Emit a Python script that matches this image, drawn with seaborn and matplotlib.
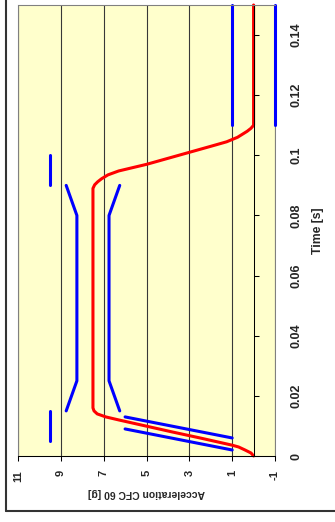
import matplotlib
matplotlib.use('Agg')
import matplotlib.pyplot as plt
from matplotlib.lines import Line2D
import seaborn as sns
import pandas as pd

# --- Data (time in s, acceleration in g) ---
red_t = [0, 0.001, 0.002, 0.003, 0.0036, 0.006, 0.008, 0.010, 0.012, 0.013,
         0.014, 0.015, 0.016, 0.089, 0.0902, 0.0912, 0.0922, 0.0935, 0.0948,
         0.097, 0.099, 0.101, 0.103, 0.1045, 0.106, 0.108, 0.109, 0.110, 0.15]
red_acc = [0, 0.12, 0.4, 0.7, 1.0, 2.5, 3.8, 5.05, 6.3, 6.9,
           7.3, 7.45, 7.5, 7.5, 7.42, 7.28, 7.1, 6.8, 6.3,
           5.0, 4.0, 3.0, 2.0, 1.26, 0.75, 0.3, 0.12, 0.0, 0.0]

upper_corr_t = [0.015, 0.025, 0.08, 0.09]
upper_corr_acc = [8.75, 8.25, 8.25, 8.75]
lower_corr_t = [0.015, 0.025, 0.08, 0.09]
lower_corr_acc = [6.25, 6.75, 6.75, 6.25]
ramp_upper_t = [0.006, 0.013]
ramp_upper_acc = [1, 6]
ramp_lower_t = [0.002, 0.009]
ramp_lower_acc = [1, 6]
mark_early_t = [0.005, 0.015]
mark_early_acc = [9.5, 9.5]
mark_late_t = [0.09, 0.10]
mark_late_acc = [9.5, 9.5]
tail_upper_t = [0.11, 0.15]
tail_upper_acc = [1, 1]
tail_lower_t = [0.11, 0.15]
tail_lower_acc = [-1, -1]

acc_ticks = [11, 9, 7, 5, 3, 1, -1]
acc_tick_labels = ['11', '9', '7', '5', '3', '1', '-1']
time_ticks = [0, 0.02, 0.04, 0.06, 0.08, 0.10, 0.12, 0.14]
time_tick_labels = ['0', '0.02', '0.04', '0.06', '0.08', '0.1', '0.12', '0.14']

# blue corridor segments in one long table
segments = [
    ('upper', upper_corr_t, upper_corr_acc),
    ('lower', lower_corr_t, lower_corr_acc),
    ('ramp_up', ramp_upper_t, ramp_upper_acc),
    ('ramp_lo', ramp_lower_t, ramp_lower_acc),
    ('early', mark_early_t, mark_early_acc),
    ('late', mark_late_t, mark_late_acc),
    ('tail_up', tail_upper_t, tail_upper_acc),
    ('tail_lo', tail_lower_t, tail_lower_acc),
]
blue_df = pd.concat([pd.DataFrame({'seg': name, 't': t, 'acc': a})
                     for name, t, a in segments], ignore_index=True)
red_df = pd.DataFrame({'t': red_t, 'acc': red_acc})

# --- Style ---
sns.set_style('white')
plt.rcParams['font.family'] = ['Liberation Sans', 'DejaVu Sans']
plt.rcParams['font.weight'] = 'bold'

fig = plt.figure(figsize=(3.35, 5.22), dpi=100)
ax = fig.add_axes([18 / 335, 1 - 456 / 522, 257 / 335, 451 / 522])
ax.set_facecolor('#FFFFCC')

sns.lineplot(data=blue_df, x='acc', y='t', units='seg', estimator=None,
             sort=False, color='#0000FF', linewidth=2.2, ax=ax, clip_on=False)
sns.lineplot(data=red_df, x='acc', y='t', estimator=None, sort=False,
             color='#FF0000', linewidth=2.2, ax=ax, clip_on=False)

ax.set_xlim(11, -1)
ax.set_ylim(0, 0.15)

# acceleration axis (bottom, rotated labels)
ax.set_xticks(acc_ticks)
ax.set_xticklabels(acc_tick_labels, rotation=90, fontsize=8, fontweight='bold')
ax.tick_params(axis='x', direction='out', length=3.6, width=0.75,
               color='black', pad=6.5, bottom=True)
ax.grid(axis='x', color='#383838', linewidth=0.8)
ax.set_axisbelow(True)

# time axis sits on acceleration = 0
ax.yaxis.tick_right()
ax.spines['right'].set_position(('data', 0))
ax.spines['right'].set_color('black')
ax.spines['right'].set_linewidth(0.75)
ax.set_yticks(time_ticks)
ax.set_yticklabels(time_tick_labels, rotation=90, fontsize=9,
                   fontweight='bold', va='center')
ax.tick_params(axis='y', direction='out', length=3.6, width=0.75,
               color='black', pad=23, right=True, left=False)

ax.spines['bottom'].set_color('black')
ax.spines['bottom'].set_linewidth(0.75)
for side in ['left', 'top']:
    ax.spines[side].set_color('#808080')
    ax.spines[side].set_linewidth(0.75)
ax.patch.set_edgecolor('#808080')
ax.patch.set_linewidth(0.75)

ax.set_xlabel('Acceleration CFC 60 [g]', rotation=180, fontsize=7.5,
              fontweight='bold', va='center', ha='center')
ax.xaxis.set_label_coords(0.5, -0.082)
ax.yaxis.set_label_position('right')
ax.set_ylabel('Time [s]', rotation=90, fontsize=8.8, fontweight='bold',
              va='center', ha='center')
ax.yaxis.set_label_coords(1.167, 0.5)

# outer chart frame (left and bottom edges)
fig.add_artist(Line2D([6.3 / 335, 6.3 / 335], [1.0, 1 - 510.5 / 522],
                      transform=fig.transFigure, color='#333333', linewidth=1.5))
fig.add_artist(Line2D([6.3 / 335, 1.0], [1 - 510.5 / 522, 1 - 510.5 / 522],
                      transform=fig.transFigure, color='#333333', linewidth=1.5))

fig.savefig('out.png', dpi=100)
plt.close(fig)
